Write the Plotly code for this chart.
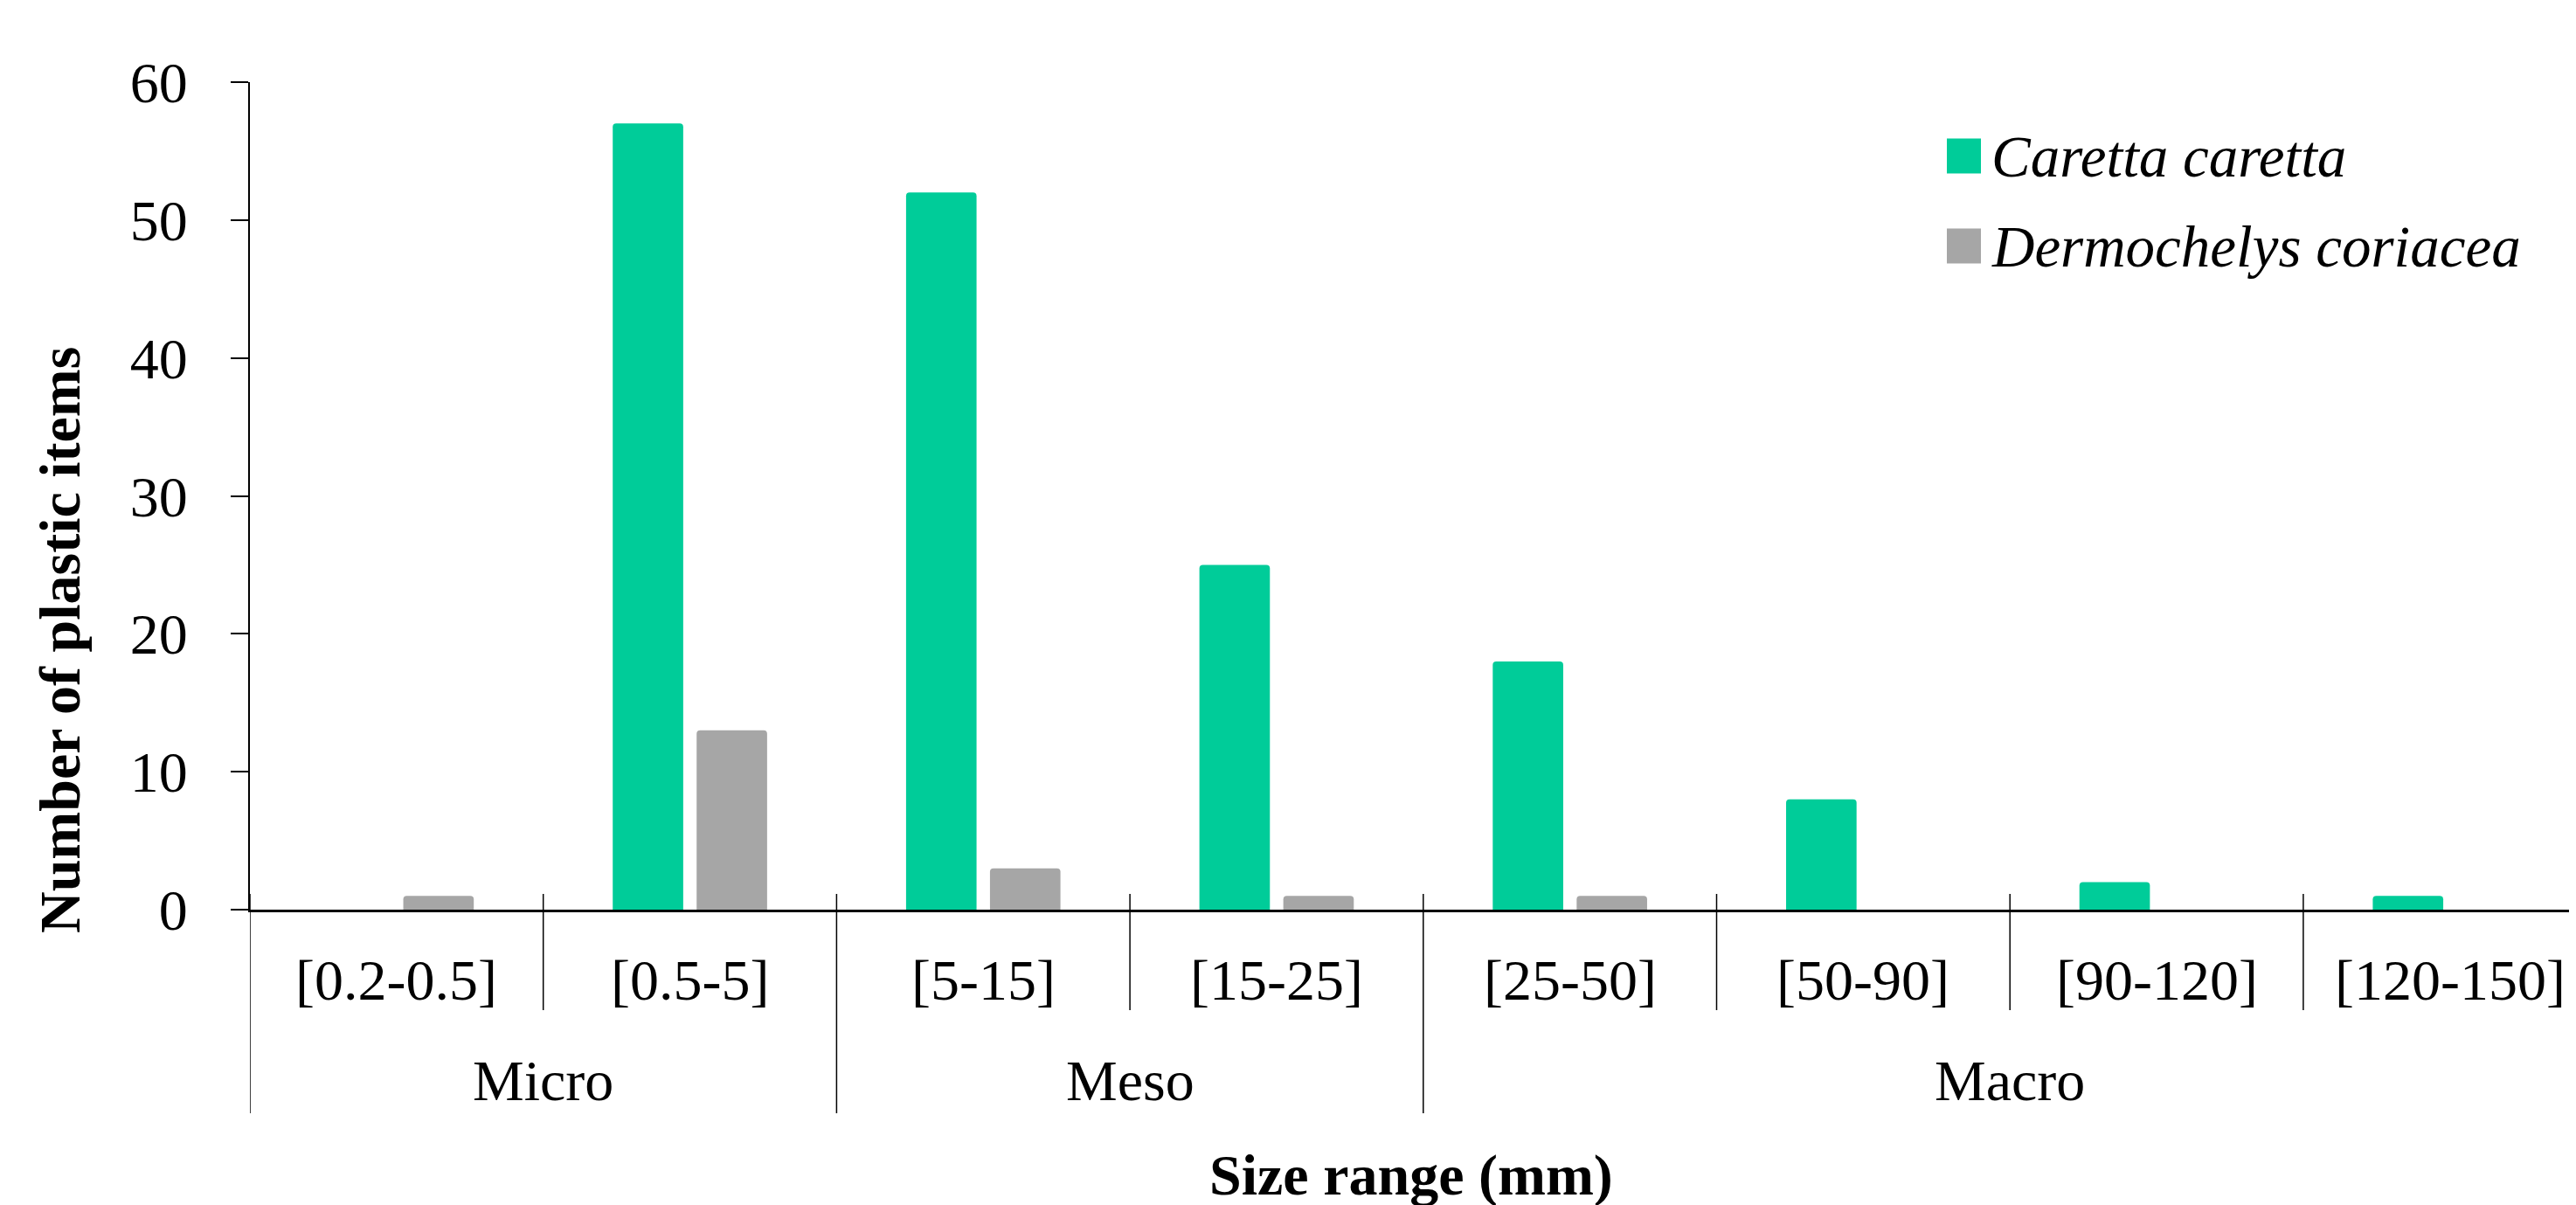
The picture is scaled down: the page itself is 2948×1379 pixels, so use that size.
import plotly.graph_objects as go

categories = ["[0.2-0.5]", "[0.5-5]", "[5-15]", "[15-25]", "[25-50]", "[50-90]", "[90-120]", "[120-150]"]
groups = ["Micro", "Micro", "Meso", "Meso", "Macro", "Macro", "Macro", "Macro"]
caretta = [0, 57, 52, 25, 18, 8, 2, 1]
dermochelys = [1, 13, 3, 1, 1, 0, 0, 0]
series_names = ["Caretta caretta", "Dermochelys coriacea"]
series_colors = ["#00CC99", "#A6A6A6"]
y_ticks = [0, 10, 20, 30, 40, 50, 60]

FONT = "Liberation Serif, Times New Roman, serif"
W, H = 2948, 1379
L, R, T, B = 278, 0, 86, 346
PW, PH = W - L - R, H - T - B
CAT_W = 335.7

def px_x(p):
    return (p - L) / PW

def px_y(p):
    return (T + PH - p) / PH

xs = list(range(len(categories)))

fig = go.Figure()
for name, vals, col in zip(series_names, [caretta, dermochelys], series_colors):
    fig.add_trace(go.Bar(x=xs, y=vals, name=name,
                         marker=dict(color=col, cornerradius=4, line=dict(width=0)),
                         showlegend=False))

shapes = []
annotations = []

# category labels
for i, c in enumerate(categories):
    annotations.append(dict(x=i, y=px_y(1113), xref="x", yref="paper", text=c, showarrow=False,
                            xanchor="center", yanchor="middle", borderpad=0,
                            font=dict(family=FONT, size=66, color="black")))

# separators between categories
for i in range(len(categories)):
    is_group = i == 0 or groups[i] != groups[i - 1]
    shapes.append(dict(type="line", xref="x", yref="paper", x0=i - 0.5, x1=i - 0.5,
                       y0=px_y(1015), y1=px_y(1266 if is_group else 1148),
                       line=dict(color="black", width=1.5)))

# group labels
start = 0
for i in range(1, len(groups) + 1):
    if i == len(groups) or groups[i] != groups[start]:
        annotations.append(dict(x=(start + i - 1) / 2, y=px_y(1228), xref="x", yref="paper",
                                text=groups[start], showarrow=False, xanchor="center", yanchor="middle",
                                borderpad=0, font=dict(family=FONT, size=66, color="black")))
        start = i

# axis titles
annotations.append(dict(x=px_x(1607), y=px_y(1337), xref="paper", yref="paper", text="<b>Size range (mm)</b>",
                        showarrow=False, xanchor="center", yanchor="middle", borderpad=0,
                        font=dict(family=FONT, size=66, color="black")))
annotations.append(dict(x=px_x(60), y=px_y(724), xref="paper", yref="paper",
                        text="<b>Number of plastic items</b>", textangle=-90,
                        showarrow=False, xanchor="center", yanchor="middle", borderpad=0,
                        font=dict(family=FONT, size=66, color="black")))

# manual legend
row_centers = [170.5, 273.5]
for name, col, yc in zip(series_names, series_colors, row_centers):
    shapes.append(dict(type="rect", xref="paper", yref="paper",
                       x0=px_x(2220), x1=px_x(2259), y0=px_y(yc + 20), y1=px_y(yc - 20),
                       fillcolor=col, line=dict(width=0)))
    annotations.append(dict(x=px_x(2270), y=px_y(yc), xref="paper", yref="paper",
                            text=f"<i>{name}</i>", showarrow=False, xanchor="left", yanchor="middle",
                            borderpad=0, font=dict(family=FONT, size=67, color="black")))

fig.update_layout(
    width=W, height=H,
    margin=dict(l=L, r=R, t=T, b=B, pad=0),
    paper_bgcolor="white", plot_bgcolor="white",
    barmode="group", bargap=0.428, bargroupgap=0.16,
    font=dict(family=FONT, size=66, color="black"),
    shapes=shapes, annotations=annotations,
    showlegend=False,
)
fig.update_xaxes(
    range=[-0.5, -0.5 + PW / CAT_W], tickmode="array", tickvals=xs, showticklabels=False,
    showline=True, linecolor="black", linewidth=3, ticks="", showgrid=False, zeroline=False,
)
fig.update_yaxes(
    range=[0, 60], tickmode="array", tickvals=y_ticks,
    showline=True, linecolor="black", linewidth=2, ticks="outside", ticklen=20, tickwidth=2,
    tickcolor="black", showgrid=False, zeroline=False,
    tickfont=dict(family=FONT, size=66, color="black"), ticklabelstandoff=36,
)

fig.write_html("out.html")
